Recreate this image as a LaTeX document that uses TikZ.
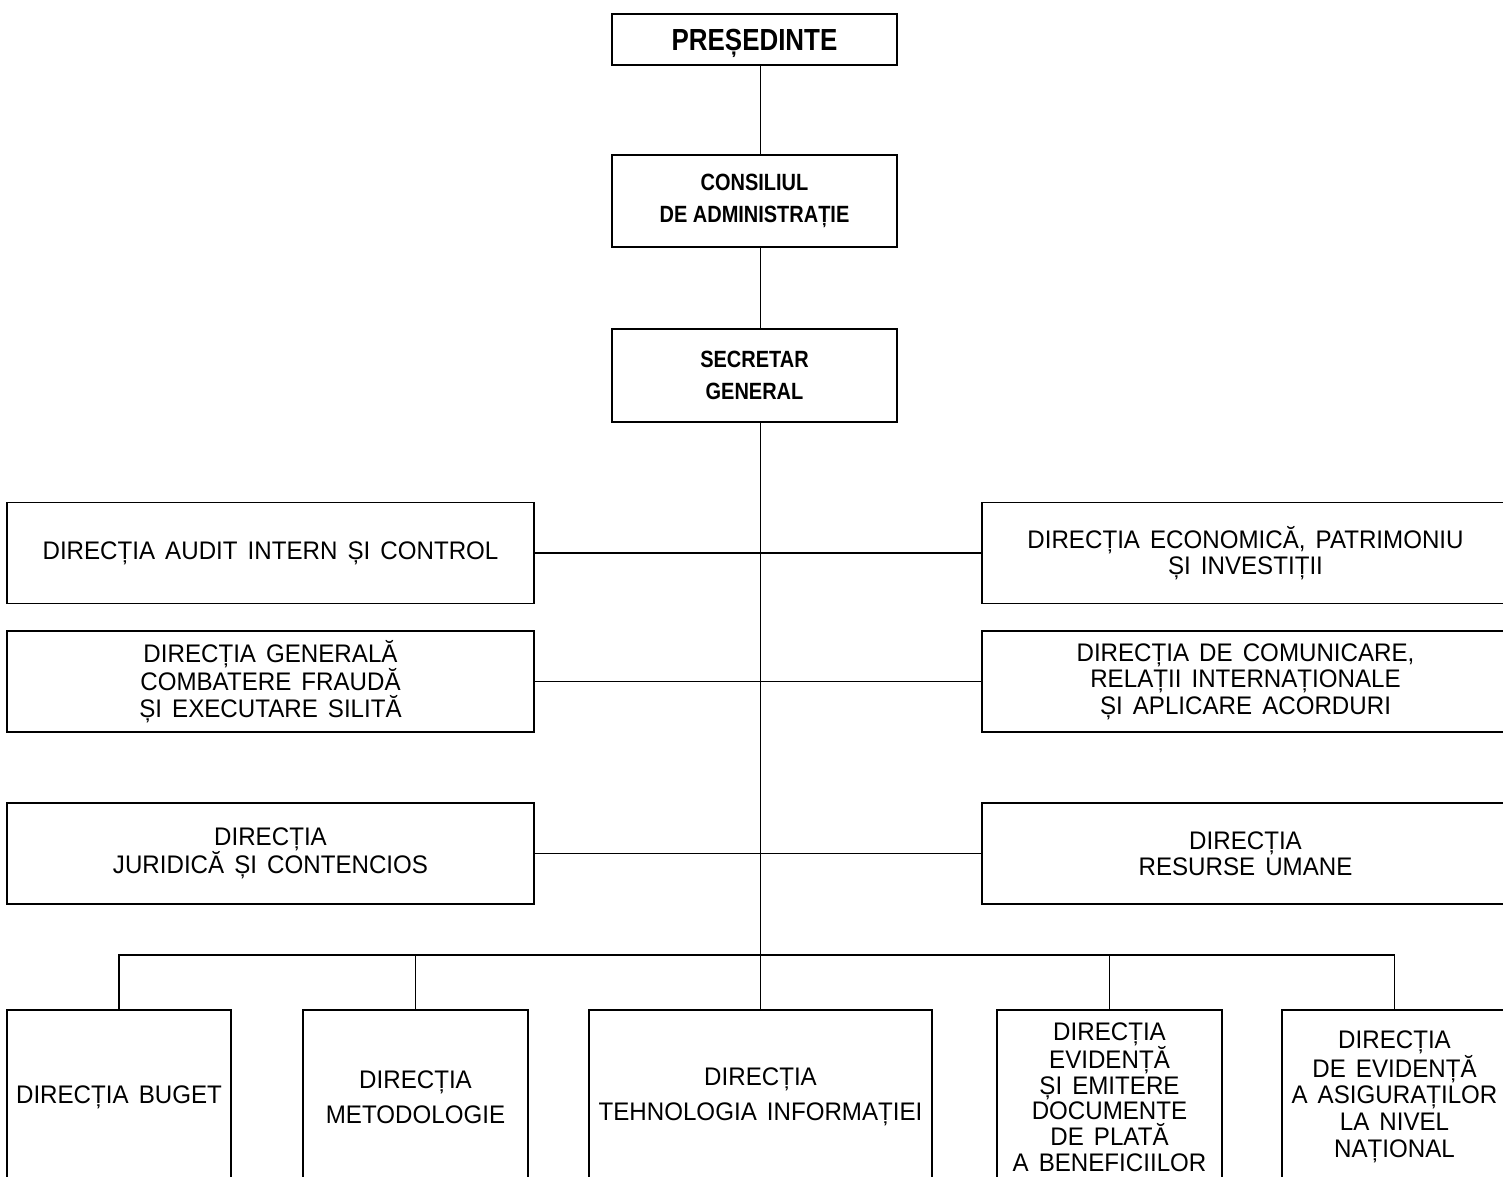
\documentclass[tikz,border=0pt]{standalone}
\usepackage{fontspec}
\setmainfont{Liberation Sans}[FakeStretch=0.95,WordSpace=1.5]
\newfontfamily\headfont{Liberation Sans}[FakeStretch=0.85]
\tikzset{
  box/.style={draw, inner sep=0pt, align=center, font=\fontsize{25.4}{26.5}\selectfont},
  head/.style={draw, inner sep=0pt, align=center, minimum width=285,
    font=\headfont\bfseries\fontsize{23.5}{32}\selectfont},
  side/.style={box, minimum width=527, minimum height=101},
  low/.style={box, anchor=north, minimum height=174}
}
\begin{document}
\begin{tikzpicture}[x=1pt, y=-1pt, line width=1.9pt]
  \useasboundingbox (0,0) rectangle (1503,1176);
  % conducere
  \node[head, minimum height=51, text depth=0pt, font=\headfont\bfseries\fontsize{30.5}{32}\selectfont] (pres) at (754.5,39.5) {PREȘEDINTE};
  \node[head, minimum height=92] (cons) at (754.5,201) {CONSILIUL\\DE ADMINISTRAȚIE};
  \node[head, minimum height=93] (secr) at (754.5,375.5) {SECRETAR\\GENERAL};
  % directii laterale
  \node[side] (audit) at (270.5,553) {DIRECȚIA AUDIT INTERN ȘI CONTROL};
  \node[side] (frauda) at (270.5,681.5) {DIRECȚIA GENERALĂ\\COMBATERE FRAUDĂ\\ȘI EXECUTARE SILITĂ};
  \node[side] (juridic) at (270.5,853.5) {DIRECȚIA\\JURIDICĂ ȘI CONTENCIOS};
  \node[side] (econ) at (1245.5,553) {DIRECȚIA ECONOMICĂ, PATRIMONIU\\ȘI INVESTIȚII};
  \node[side] (comunic) at (1245.5,681.5) {DIRECȚIA DE COMUNICARE,\\RELAȚII INTERNAȚIONALE\\ȘI APLICARE ACORDURI};
  \node[side] (resurse) at (1245.5,853.5) {DIRECȚIA\\RESURSE UMANE};
  % directii de jos
  \node[low, minimum width=224] (buget) at (119,1009) {DIRECȚIA BUGET};
  \node[low, minimum width=225, font=\fontsize{25.4}{35}\selectfont] (metod) at (415.5,1009) {DIRECȚIA\\METODOLOGIE};
  \node[low, minimum width=343, font=\fontsize{25.4}{35}\selectfont] (tehno) at (760.5,1009) {DIRECȚIA\\TEHNOLOGIA INFORMAȚIEI};
  \node[low, minimum width=225, font=\fontsize{25.4}{25.6}\selectfont] (evid) at (1109.5,1009) {DIRECȚIA\\EVIDENȚĂ\\ȘI EMITERE\\DOCUMENTE\\DE PLATĂ\\A BENEFICIILOR};
  \node[low, minimum width=225, font=\fontsize{25.4}{26.8}\selectfont] (asig) at (1394.5,1009) {DIRECȚIA\\DE EVIDENȚĂ\\A ASIGURAȚILOR\\LA NIVEL\\NAȚIONAL};
  \coordinate (bus) at (760.5,955);
  % legaturi
  \draw ([xshift=6]pres.south) -- ([xshift=6]cons.north);
  \draw ([xshift=6]cons.south) -- ([xshift=6]secr.north);
  \draw ([xshift=6]secr.south) -- (tehno.north);
  \foreach \l/\r in {audit/econ, frauda/comunic, juridic/resurse}
    \draw (\l.east) -- (\r.west);
  \draw (buget.north) |- (bus) -| (asig.north);
  \foreach \n in {metod, evid}
    \draw (\n.north) -- (\n.north |- bus);
\end{tikzpicture}
\end{document}
